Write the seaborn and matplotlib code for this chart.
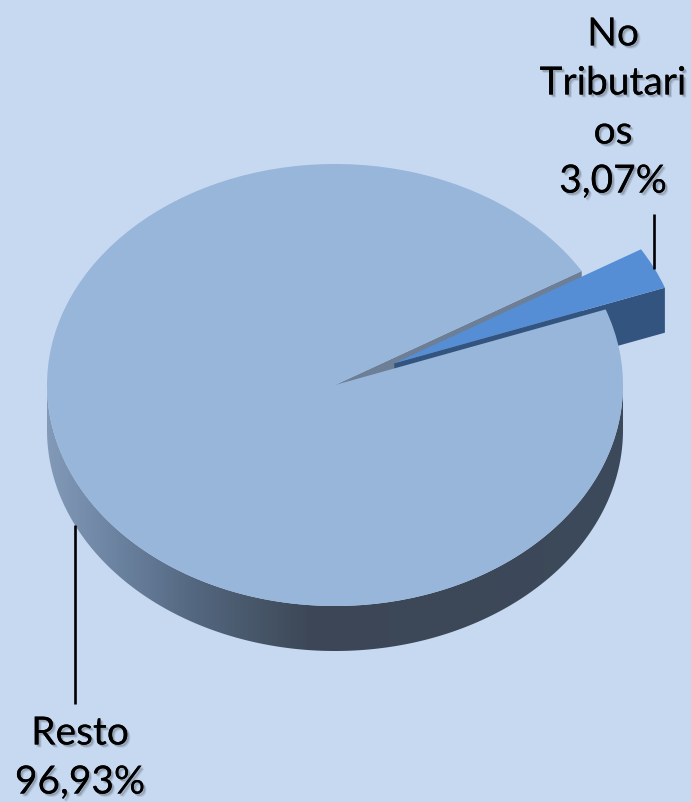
import numpy as np
import matplotlib
matplotlib.use("Agg")
import matplotlib.pyplot as plt
import matplotlib.patheffects as pe
from matplotlib.colors import LinearSegmentedColormap
from matplotlib.patches import Polygon
from matplotlib.transforms import Affine2D
import seaborn as sns

categories = ["No\nTributari\nos", "Resto"]
values = [3.07, 96.93]

BG = "#c6d9f1"
TOP_COLORS = sns.color_palette(["#558ed5", "#98b5da"])
W, H = 691, 802
CX, CY, RX, RY, DEPTH_PX = 335, 385, 288, 221, 45

sns.set_theme(style="white")
plt.rcParams["font.family"] = ["Lato", "DejaVu Sans"]

fig = plt.figure(figsize=(W / 100, H / 100), dpi=100, facecolor=BG)
ax = fig.add_axes([0, 0, 1, 1], facecolor=BG)

wedges, _ = ax.pie(values, colors=TOP_COLORS, startangle=20, counterclock=True,
                   explode=[0.228, 0], radius=1, wedgeprops={"linewidth": 0})
ax.set_aspect("auto")
ax.set_xlim(-CX / RX, (W - CX) / RX)
ax.set_ylim((CY - H) / RY, CY / RY)
ax.axis("off")
depth = DEPTH_PX / RY

slice_w, main_w = wedges
slice_w.set_zorder(5)
main_w.set_zorder(4)


def polar(center, angle):
    a = np.radians(angle)
    return center[0] + np.cos(a), center[1] + np.sin(a)


# cut face of the main pie, seen through the notch
mc = main_w.center
ox, oy = polar(mc, slice_w.theta2)
ax.add_patch(Polygon([mc, (ox, oy), (ox, oy - depth), (mc[0], mc[1] - depth)],
                     fc="#6c7f97", ec="none", zorder=1))

# lower radial wall of the exploded slice
sc = slice_w.center
ox, oy = polar(sc, slice_w.theta1)
ax.add_patch(Polygon([sc, (ox, oy), (ox, oy - depth), (sc[0], sc[1] - depth)],
                     fc="#33547f", ec="none", zorder=2))

# rim of the main pie with a horizontal gradient
t = np.linspace(np.pi, 2 * np.pi, 300)
xr = np.cos(t)
rim = np.vstack([np.column_stack([xr, np.sin(t)]),
                 np.column_stack([xr, np.sin(t) - depth])[::-1]])
rim_patch = Polygon(rim, fc="none", ec="none", transform=ax.transData)
ax.add_patch(rim_patch)
cmap = LinearSegmentedColormap.from_list(
    "rim", [(0.0, "#829ab8"), (0.10, "#6f87a5"), (0.26, "#53667f"),
            (0.375, "#465566"), (0.46, "#3c4656"), (1.0, "#3c4a5b")])
img = ax.imshow(np.linspace(0, 1, 512)[None, :], cmap=cmap, aspect="auto",
                extent=(-1, 1, -1 - depth, depth), zorder=3)
img.set_clip_path(rim_patch)
ax.set_xlim(-CX / RX, (W - CX) / RX)
ax.set_ylim((CY - H) / RY, CY / RY)

# labels and leader lines, positioned in reference pixels
px = Affine2D().scale(1, -1).translate(0, H)
shadow = [pe.withSimplePatchShadow(offset=(2.2, -2.2), shadow_rgbFace="#000000", alpha=0.10),
          pe.withSimplePatchShadow(offset=(1.4, -1.4), shadow_rgbFace="#000000", alpha=0.18)]


def pct(v):
    return f"{v:.2f}".replace(".", ",") + "%"


ax.text(613, 108, f"{categories[0]}\n{pct(values[0])}", transform=px, ha="center", va="center",
        fontsize=28, color="black", linespacing=1.45, zorder=7, path_effects=shadow)
ax.text(80, 758, f"{categories[1]}\n{pct(values[1])}", transform=px, ha="center", va="center",
        fontsize=28, color="black", linespacing=1.45, zorder=7, path_effects=shadow)
ax.plot([654, 654], [214, 269], transform=px, color="black", lw=1.9, zorder=6, solid_capstyle="butt")
ax.plot([75, 75], [525, 704], transform=px, color="black", lw=1.9, zorder=6, solid_capstyle="butt")

fig.savefig("out.png", dpi=100, facecolor=BG)
